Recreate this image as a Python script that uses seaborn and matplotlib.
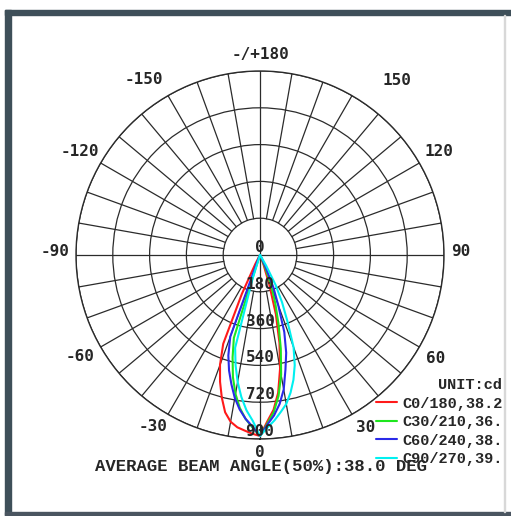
import numpy as np
import pandas as pd
import matplotlib.pyplot as plt
from matplotlib.patches import Rectangle
import seaborn as sns

# gamma angles (deg) shared by every C-plane half
gamma = [0, 2.5, 5, 7.5, 10, 12.5, 15, 17.5, 20, 22.5, 25, 27.5, 30, 32.5, 35, 90]

# intensity (cd), left half / right half of each pair
c0 = [885, 875, 862, 850, 828, 788, 722, 650, 572, 470, 210, 50, 5, 0, 0, 0]
c180 = [885, 815, 760, 680, 565, 440, 300, 150, 50, 10, 0, 0, 0, 0, 0, 0]
c30 = [885, 845, 805, 755, 690, 612, 518, 425, 25, 0, 0, 0, 0, 0, 0, 0]
c210 = [885, 825, 772, 695, 595, 470, 350, 250, 165, 60, 10, 0, 0, 0, 0, 0]
c60 = [885, 840, 805, 762, 710, 647, 585, 515, 425, 25, 0, 0, 0, 0, 0, 0]
c240 = [885, 830, 788, 735, 668, 575, 495, 395, 260, 170, 60, 10, 0, 0, 0, 0]
c90 = [885, 812, 762, 700, 630, 552, 470, 120, 0, 0, 0, 0, 0, 0, 0, 0]
c270 = [885, 845, 812, 775, 740, 690, 632, 565, 480, 350, 255, 165, 60, 10, 0, 0]

planes = ['C0/180,38.2', 'C30/210,36.', 'C60/240,38.', 'C90/270,39.']
colors = ['#ff1a1a', '#1ee61e', '#2a2ae8', '#00f0f0']
halves = [(c0, c180), (c30, c210), (c60, c240), (c90, c270)]

rings = [180, 360, 540, 720, 900]
angle_labels = ['0', '30', '60', '90', '120', '150', '-/+180', '-150', '-120', '-90', '-60', '-30']
# where each angle label sits (deg, cd) - the source drawing puts them a bit irregularly
label_theta = [0, 31.5, 59.5, 91, 120, 142, 180, 213.5, 240, 269, 299.5, 328]
label_r = [965, 990, 995, 980, 1008, 1085, 980, 1027, 1017, 1003, 1012, 991]

sns.set_style('white')

fig = plt.figure(figsize=(5.11, 5.16), dpi=100)
fig.patch.set_facecolor('white')
ax = fig.add_axes([76 / 511, 1 - 439 / 516, 368 / 511, 368 / 516], projection='polar')
ax.set_theta_zero_location('S')
ax.set_theta_direction(1)
ax.set_ylim(0, 900)

gridc = '#2b2b2b'
ax.set_yticks(rings)
ax.set_yticklabels([])
ax.yaxis.grid(True, color=gridc, lw=0.9)
ax.xaxis.grid(False)
ax.set_xticks([])
ax.spines['polar'].set_color(gridc)
ax.spines['polar'].set_linewidth(1.0)

# spokes every 10 deg, the four main ones run to the centre
spokes = np.arange(0, 360, 10)
for a in spokes:
    r0 = 0 if a % 90 == 0 else 180
    ax.plot([np.deg2rad(a)] * 2, [r0, 900], color=gridc, lw=0.9, zorder=1)

for lbl, a, r in zip(angle_labels, label_theta, label_r):
    ax.text(np.deg2rad(a), r, lbl, ha='center', va='center', clip_on=False,
            fontfamily='DejaVu Sans Mono', fontweight='bold', fontsize=11.5)

g = np.array(gamma)
for name, col, (left, right) in zip(planes, colors, halves):
    th = np.deg2rad(np.concatenate([-g[::-1], g[1:]]))
    rr = np.concatenate([np.array(left)[::-1], np.array(right)[1:]])
    df = pd.DataFrame({'theta': th, 'cd': rr})
    sns.lineplot(data=df, x='theta', y='cd', ax=ax, color=col, lw=1.5,
                 sort=False, estimator=None, label=name, zorder=3)

ax.set_xlabel('')
ax.set_ylabel('')
handles, labels = ax.get_legend_handles_labels()
ax.get_legend().remove()

# ring values along the 0 deg direction
for v in [0] + rings:
    ax.text(0, v, str(v), ha='center', va='bottom', fontsize=11.5,
            fontfamily='DejaVu Sans Mono', fontweight='bold', zorder=4)

leg = fig.legend(handles, labels, loc='upper left', bbox_to_anchor=(376 / 511, 1 - 378 / 516),
                 frameon=False, title='UNIT:cd', alignment='right',
                 prop={'family': 'Liberation Mono', 'weight': 'bold', 'size': 11},
                 title_fontproperties={'family': 'Liberation Mono', 'weight': 'bold', 'size': 11},
                 handlelength=1.4, handletextpad=0.3, labelspacing=0.3,
                 borderpad=0, borderaxespad=0)

fig.text(95 / 511, 1 - 467 / 516, 'AVERAGE BEAM ANGLE(50%):38.0 DEG', ha='left', va='center',
         fontfamily='Liberation Mono', fontweight='bold', fontsize=12.4)

# page frame
band = '#3e4f59'
fig.patches.append(Rectangle((5 / 511, 0), 6 / 511, 1 - 10 / 516, transform=fig.transFigure,
                             color=band, zorder=10))
fig.patches.append(Rectangle((5 / 511, 1 - 15 / 516), 506 / 511, 5 / 516, transform=fig.transFigure,
                             color=band, zorder=10))
fig.patches.append(Rectangle((5 / 511, 1 / 516), 506 / 511, 3 / 516, transform=fig.transFigure,
                             color='#4a5560', zorder=10))
fig.patches.append(Rectangle((504 / 511, 4 / 516), 1 / 511, 1 - 19 / 516, transform=fig.transFigure,
                             color='#d8d8d8', zorder=10))

fig.savefig('out.png', dpi=100)
